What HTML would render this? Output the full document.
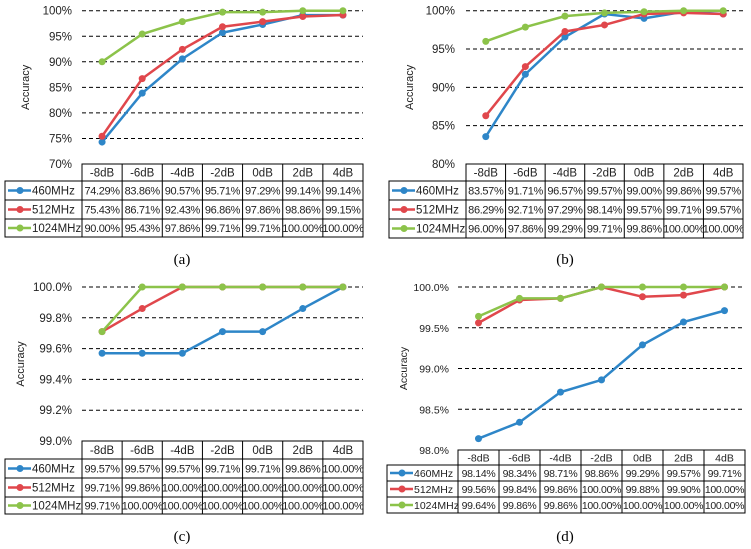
<!DOCTYPE html>
<html><head><meta charset="utf-8">
<style>
html,body{margin:0;padding:0;background:#fff;}
svg{display:block;font-family:"Liberation Sans",sans-serif;}
</style></head>
<body>
<svg id="fig" width="751" height="549" viewBox="0 0 751 549" xmlns="http://www.w3.org/2000/svg"></svg>
<script>
const categories = ["-8dB","-6dB","-4dB","-2dB","0dB","2dB","4dB"];
const seriesNames = ["460MHz","512MHz","1024MHz"];
const seriesColors = ["#2e86c8","#e0474c","#8cc34a"];
const aValues460 = [74.29,83.86,90.57,95.71,97.29,99.14,99.14];
const aValues512 = [75.43,86.71,92.43,96.86,97.86,98.86,99.15];
const aValues1024 = [90.00,95.43,97.86,99.71,99.71,100.00,100.00];
const bValues460 = [83.57,91.71,96.57,99.57,99.00,99.86,99.57];
const bValues512 = [86.29,92.71,97.29,98.14,99.57,99.71,99.57];
const bValues1024 = [96.00,97.86,99.29,99.71,99.86,100.00,100.00];
const cValues460 = [99.57,99.57,99.57,99.71,99.71,99.86,100.00];
const cValues512 = [99.71,99.86,100.00,100.00,100.00,100.00,100.00];
const cValues1024 = [99.71,100.00,100.00,100.00,100.00,100.00,100.00];
const dValues460 = [98.14,98.34,98.71,98.86,99.29,99.57,99.71];
const dValues512 = [99.56,99.84,99.86,100.00,99.88,99.90,100.00];
const dValues1024 = [99.64,99.86,99.86,100.00,100.00,100.00,100.00];
const aTicks = [70,75,80,85,90,95,100];
const bTicks = [80,85,90,95,100];
const cTicks = [99.0,99.2,99.4,99.6,99.8,100.0];
const dTicks = [98.0,98.5,99.0,99.5,100.0];
const aTickLabels = ["70%","75%","80%","85%","90%","95%","100%"];
const bTickLabels = ["80%","85%","90%","95%","100%"];
const cTickLabels = ["99.0%","99.2%","99.4%","99.6%","99.8%","100.0%"];
const dTickLabels = ["98.0%","98.5%","99.0%","99.5%","100.0%"];

const NS="http://www.w3.org/2000/svg";
const svg=document.getElementById('fig');
function mk(tag,attrs,parent){const e=document.createElementNS(NS,tag);for(const k in attrs)e.setAttribute(k,attrs[k]);(parent||svg).appendChild(e);return e;}

const panels=[
 {id:"a",vals:[aValues460,aValues512,aValues1024],ticks:aTicks,tl:aTickLabels,top:10.7,bot:164,tx0:82,tx1:363,lx:5,rows:[164,181,200,219,237],labX:72,accX:29,cap:"(a)",capX:182,capY:264,fs:11.5,vfs:11,ls:-0.35},
 {id:"b",vals:[bValues460,bValues512,bValues1024],ticks:bTicks,tl:bTickLabels,top:10.7,bot:164,tx0:466,tx1:743,lx:389,rows:[164,181,200,219,238],labX:455,accX:413,cap:"(b)",capX:565,capY:264,fs:11.5,vfs:11,ls:-0.35},
 {id:"c",vals:[cValues460,cValues512,cValues1024],ticks:cTicks,tl:cTickLabels,top:287,bot:441,tx0:82,tx1:363,lx:5,rows:[441,459,478,497,514],labX:72,accX:24,cap:"(c)",capX:182,capY:541,fs:11.5,vfs:11,ls:-0.35},
 {id:"d",vals:[dValues460,dValues512,dValues1024],ticks:dTicks,tl:dTickLabels,top:287,bot:450,tx0:458,tx1:745,lx:387,rows:[450,465,481,497,513],labX:449,accX:407,cap:"(d)",capX:565,capY:541,fs:10.5,vfs:10.5,ls:-0.3}
];

panels.forEach(p=>{
  const g=mk('g',{});
  
  
  const lo=p.ticks[0],hi=p.ticks[p.ticks.length-1];
  const y=v=>p.bot-(v-lo)/(hi-lo)*(p.bot-p.top);
  const cw=(p.tx1-p.tx0)/categories.length;
  const x=i=>p.tx0+cw*(i+0.5);
  p.ticks.forEach((t,i)=>{
    if(i>0){const l=mk('line',{x1:p.tx0,x2:p.tx1,y1:y(t),y2:y(t),stroke:'#000','stroke-width':1,'stroke-dasharray':'4,3'},g);
      
      }
    const tx=mk('text',{x:p.labX,y:y(t)+4,'text-anchor':'end','font-size':p.fs,fill:'#222'},g);
    
    
    tx.textContent=p.tl[i];
  });
  const afs=p.id==='d'?10.5:11;
  const at=mk('text',{x:p.accX,y:(p.top+p.bot)/2,'text-anchor':'middle','font-size':afs,fill:'#222',transform:`rotate(-90 ${p.accX} ${(p.top+p.bot)/2})`},g);
  
  
  at.textContent='Accuracy';
  [0,1,2].forEach(s=>{
    const vals=p.vals[s];
    const pts=vals.map((v,i)=>x(i)+','+y(v)).join(' ');
    const pl=mk('polyline',{points:pts,fill:'none',stroke:seriesColors[s],'stroke-width':2.5},g);
    
    
    vals.forEach((v,i)=>{
      const c=mk('circle',{cx:x(i),cy:y(v),r:3.5,fill:seriesColors[s]},g);
      
      
    });
  });
  const r=p.rows;
  const tg=mk('g',{stroke:'#000','stroke-width':1,fill:'none'},g);
  
  
  mk('rect',{x:p.tx0,y:r[0],width:p.tx1-p.tx0,height:r[4]-r[0]},tg);
  mk('rect',{x:p.lx,y:r[1],width:p.tx0-p.lx,height:r[4]-r[1]},tg);
  for(let k=1;k<4;k++)mk('line',{x1:p.lx,x2:p.tx1,y1:r[k],y2:r[k]},tg);
  for(let i=1;i<categories.length;i++)mk('line',{x1:p.tx0+cw*i,x2:p.tx0+cw*i,y1:r[0],y2:r[4]},tg);
  categories.forEach((c,i)=>{
    const t=mk('text',{x:x(i),y:(r[0]+r[1])/2+p.fs*0.36,'text-anchor':'middle','font-size':p.fs,fill:'#222'},g);
    
    
    t.textContent=c;
  });
  seriesNames.forEach((n,s)=>{
    const cy=(r[s+1]+r[s+2])/2;
    const ll=mk('line',{x1:p.lx+3,x2:p.lx+26,y1:cy,y2:cy,stroke:seriesColors[s],'stroke-width':2.5},g);
    
    
    const lc=mk('circle',{cx:p.lx+15,cy:cy,r:3.5,fill:seriesColors[s]},g);
    
    
    const lt=mk('text',{x:p.lx+27,y:cy+p.fs*0.36,'font-size':p.fs,fill:'#222'},g);
    
    
    lt.textContent=n;
    p.vals[s].forEach((v,i)=>{
      const t=mk('text',{x:x(i),y:cy+p.vfs*0.36,'text-anchor':'middle','font-size':p.vfs,'letter-spacing':p.ls,fill:'#222'},g);
      
      
      t.textContent=v.toFixed(2)+'%';
    });
  });
  const cap=mk('text',{x:p.capX,y:p.capY,'text-anchor':'middle','font-size':15,'font-family':'"Liberation Serif",serif',fill:'#000'},g);
  
  
  cap.textContent=p.cap;
});
</script>
</body></html>
